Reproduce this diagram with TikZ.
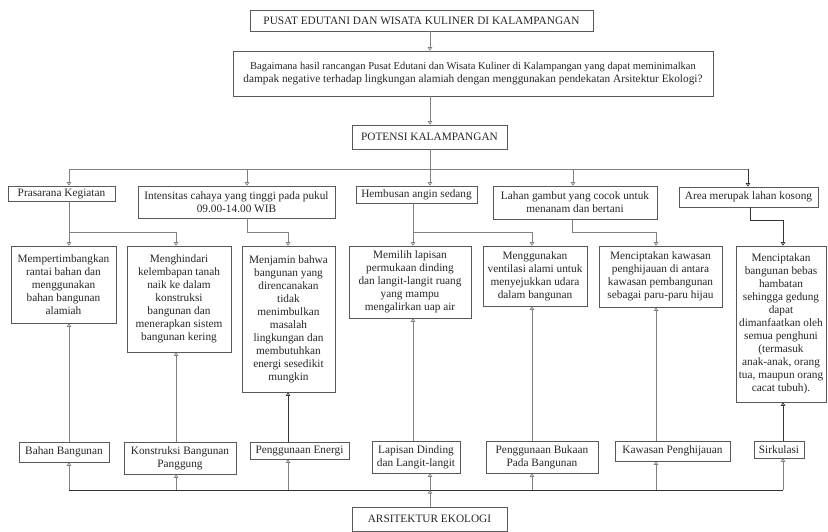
\documentclass[tikz,border=0pt]{standalone}
\usepackage{fontspec}
\setmainfont{Liberation Serif}
\usetikzlibrary{arrows.meta}
\newcommand\mkbox[6]{%
  \node[box, minimum width={(#4-#2)*1pt}, minimum height={(#5-#3)*1pt}] (#1) at ({(#2+#4)/2},{(#3+#5)/2}) {#6};}
\begin{document}
\begin{tikzpicture}[x=1pt,y=-1pt,
  box/.style={draw=black!65, line width=0.7pt, align=center, inner xsep=0.5pt, inner ysep=1pt,
    font=\fontsize{11.3}{13}\selectfont, text=black!85},
  ln/.style={draw=black!50, line width=0.7pt},
  dk/.style={draw=black!80},
  arr/.style={ln, -{Triangle[open,length=3.5pt,width=4.5pt]}},
]
\useasboundingbox (0,0) rectangle (828,532);
% x positions
\coordinate (ax) at (430,0);
\coordinate (c69) at (69,0);
\coordinate (c176) at (176,0);
\coordinate (c247) at (247,0);
\coordinate (c288) at (288,0);
\coordinate (c413) at (413,0);
\coordinate (c532) at (532,0);
\coordinate (c572) at (572,0);
\coordinate (c573) at (573,0);
\coordinate (c656) at (656,0);
\coordinate (c748) at (748,0);
\coordinate (c750) at (750,0);
\coordinate (c783) at (783,0);
% y positions
\coordinate (busT) at (0,169);
\coordinate (j232) at (0,232);
\coordinate (j220) at (0,220);
\coordinate (busB) at (0,490);

% top
\mkbox{title}{250}{10}{593}{31}{PUSAT EDUTANI DAN WISATA KULINER DI KALAMPANGAN}
\mkbox{q}{233}{51}{713}{96}{\fontsize{10.5}{14}\selectfont Bagaimana hasil rancangan Pusat Edutani dan Wisata Kuliner di Kalampangan yang dapat meminimalkan\\ dampak negative terhadap lingkungan alamiah dengan menggunakan pendekatan Arsitektur Ekologi?}
\mkbox{pot}{352}{125}{507}{149}{POTENSI KALAMPANGAN}

% row 2
\mkbox{pra}{8}{186}{115}{201}{Prasarana Kegiatan}
\mkbox{int}{138}{186}{335}{218}{Intensitas cahaya yang tinggi pada pukul\\ 09.00-14.00 WIB}
\mkbox{hem}{356}{186}{477}{203}{Hembusan angin sedang}
\mkbox{lah}{493}{186}{657}{219}{Lahan gambut yang cocok untuk\\ menanam dan bertani}
\mkbox{area}{679}{187}{818}{207}{Area merupak lahan kosong}

% row 3
\mkbox{A}{11}{246}{116}{323}{Mempertimbangkan\\ rantai bahan dan\\ menggunakan\\ bahan bangunan\\ alamiah}
\mkbox{B}{127}{246}{231}{352}{Menghindari\\ kelembapan tanah\\ naik ke dalam\\ konstruksi\\ bangunan dan\\ menerapkan sistem\\ bangunan kering}
\mkbox{C}{242}{246}{335}{392}{Menjamin bahwa\\ bangunan yang\\ direncanakan\\ tidak\\ menimbulkan\\ masalah\\ lingkungan dan\\ membutuhkan\\ energi sesedikit\\ mungkin}
\mkbox{D}{349}{246}{471}{318}{Memilih lapisan\\ permukaan dinding\\ dan langit-langit ruang\\ yang mampu\\ mengalirkan uap air}
\mkbox{E}{483}{246}{587}{306}{Menggunakan\\ ventilasi alami untuk\\ menyejukkan udara\\ dalam bangunan}
\mkbox{F}{599}{246}{722}{307}{Menciptakan kawasan\\ penghijauan di antara\\ kawasan pembangunan\\ sebagai paru-paru hijau}
\mkbox{G}{736}{246}{826}{402}{Menciptakan\\ bangunan bebas\\ hambatan\\ sehingga gedung\\ dapat\\ dimanfaatkan oleh\\ semua penghuni\\ (termasuk\\ anak-anak, orang\\ tua, maupun orang\\ cacat tubuh).}

% bottom row
\mkbox{bah}{19}{442}{109}{462}{Bahan Bangunan}
\mkbox{kon}{124}{442}{236}{474}{Konstruksi Bangunan\\ Panggung}
\mkbox{ene}{250}{442}{349}{459}{Penggunaan Energi}
\mkbox{lap}{372}{441}{460}{473}{Lapisan Dinding\\ dan Langit-langit}
\mkbox{buk}{486}{441}{598}{473}{Penggunaan Bukaan\\ Pada Bangunan}
\mkbox{kaw}{615}{441}{730}{461}{Kawasan Penghijauan}
\mkbox{sir}{754}{441}{804}{458}{Sirkulasi}
\mkbox{ars}{352}{507}{507}{531}{ARSITEKTUR EKOLOGI}

% top connectors
\draw[arr] (title.south -| ax) -- (q.north -| ax);
\draw[arr] (q.south -| ax) -- (pot.north -| ax);
\draw[ln] (pot.south -| ax) -- (busT -| ax);
\draw[ln] (busT -| c69) -- (busT -| c748);
\draw[arr] (busT -| c69) -- (pra.north -| c69);
\draw[arr] (busT -| c247) -- (int.north -| c247);
\draw[arr] (busT -| ax) -- (hem.north -| ax);
\draw[arr] (busT -| c573) -- (lah.north -| c573);
\draw[arr,dk] (busT -| c748) -- (area.north -| c748);

% row 2 -> row 3
\draw[arr] (pra.south -| c69) -- (A.north -| c69);
\draw[arr] (j232 -| c69) -| (B.north -| c176);
\draw[arr] (int.south -| c247) |- (j232 -| c288) -- (C.north -| c288);
\draw[arr] (hem.south -| c413) -- (D.north -| c413);
\draw[arr] (j232 -| c413) -| (E.north -| c532);
\draw[arr] (lah.south -| c572) |- (j232 -| c656) -- (F.north -| c656);
\draw[arr,dk] (area.south -| c750) |- (j220 -| c783) -- (G.north -| c783);

% bottom row -> row 3
\draw[arr] (bah.north -| c69) -- (A.south -| c69);
\draw[arr] (kon.north -| c176) -- (B.south -| c176);
\draw[arr,dk] (ene.north -| c288) -- (C.south -| c288);
\draw[arr] (lap.north -| c413) -- (D.south -| c413);
\draw[arr] (buk.north -| c532) -- (E.south -| c532);
\draw[arr] (kaw.north -| c656) -- (F.south -| c656);
\draw[arr,dk] (sir.north -| c783) -- (G.south -| c783);

% bottom bus
\draw[ln,dk] (busB -| c69) -- (busB -| c783);
\draw[arr] (busB -| c69) -- (bah.south -| c69);
\draw[arr] (busB -| c176) -- (kon.south -| c176);
\draw[arr] (busB -| c288) -- (ene.south -| c288);
\draw[arr] (busB -| ax) -- (lap.south -| ax);
\draw[arr] (busB -| c532) -- (buk.south -| c532);
\draw[arr] (busB -| c656) -- (kaw.south -| c656);
\draw[arr] (busB -| c783) -- (sir.south -| c783);
\draw[arr] (ars.north -| ax) -- (busB -| ax);
\end{tikzpicture}
\end{document}
